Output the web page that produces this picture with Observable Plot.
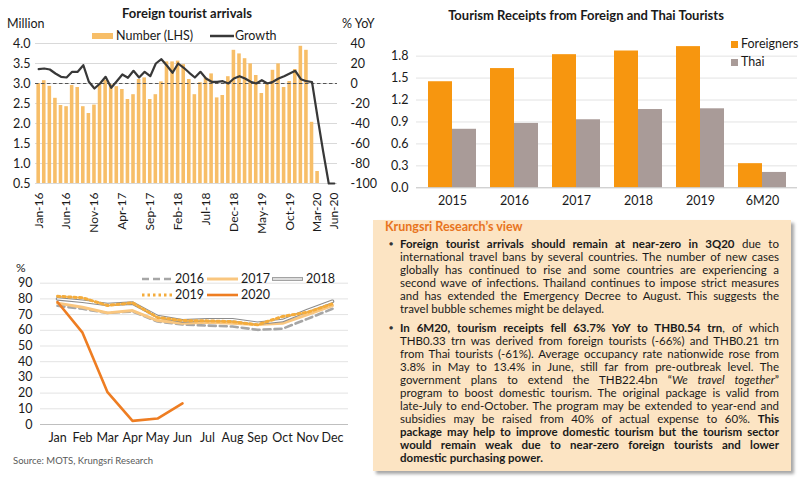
<!DOCTYPE html>
<html><head><meta charset="utf-8">
<script src="https://cdn.jsdelivr.net/npm/d3@7"></script>
<script src="https://cdn.jsdelivr.net/npm/@observablehq/plot@0.6"></script>
<style>
body{margin:0;background:#fff;font-family:Lato,"Open Sans",sans-serif;}
#root{position:relative;width:800px;height:478px;overflow:hidden;background:#fff;}
.lbl{position:absolute;white-space:nowrap;line-height:1;color:#1a1a1a;}
.sw{position:absolute;line-height:0;}
.sw svg{display:block;}
#box{position:absolute;left:373px;top:220px;width:418px;height:251px;background:#FCE4C3;box-shadow:3px 3px 3px rgba(0,0,0,0.35);}
#box .ln{position:absolute;left:27px;width:379px;height:13px;line-height:13px;font-size:11.5px;color:#1a1a1a;text-align:justify;text-align-last:justify;}
#box .last{text-align-last:left;}
#box .bul{position:absolute;left:16px;font-size:7px;line-height:13px;color:#333;}
</style></head><body><div id="root"></div>
<script>
const FONT = "Lato, 'Open Sans', sans-serif";
const root = document.getElementById("root");

// ---------- Chart 1 data: Foreign tourist arrivals ----------
const monthNames = ["Jan","Feb","Mar","Apr","May","Jun","Jul","Aug","Sep","Oct","Nov","Dec"];
const arrivalYears = ["16","17","18","19","20"];
const arrivals2016 = [3.00, 3.07, 2.93, 2.63, 2.45, 2.42, 2.95, 2.90, 2.42, 2.25, 2.46, 2.97];
const arrivals2017 = [3.08, 2.97, 2.92, 2.85, 2.60, 2.72, 3.10, 3.14, 2.60, 2.72, 3.04, 3.54];
const arrivals2018 = [3.54, 3.56, 3.47, 3.10, 2.72, 3.02, 3.14, 3.24, 2.64, 2.70, 3.17, 3.83];
const arrivals2019 = [3.74, 3.62, 3.49, 3.20, 2.75, 2.97, 3.33, 3.49, 2.90, 3.05, 3.35, 3.93];
const arrivals2020 = [3.83, 2.03, 0.80, 0.01, 0.01, 0.01];
const growth2016 = [14.3, 15.0, 14.0, 10.0, 6.7, 6.0, 11.7, 11.7, 18.3, 1.7, -5.0, 0.0];
const growth2017 = [6.7, -4.3, 2.3, 9.0, 5.7, 12.7, 6.0, 11.7, 7.3, 20.0, 24.3, 17.7];
const growth2018 = [10.7, 20.0, 15.7, 10.7, 6.0, 11.7, 5.0, 1.7, 1.7, 2.3, 0.0, 5.0];
const growth2019 = [7.3, 5.0, 1.7, 0.0, 3.3, 0.0, 1.7, 5.0, 7.3, 10.0, 12.7, 4.3];
const growth2020 = [2.3, 1.5, -34, -68, -100, -100];
const leftTicks = [0.5, 1.0, 1.5, 2.0, 2.5, 3.0, 3.5, 4.0];
const rightTicks = [40, 20, 0, -20, -40, -60, -80, -100];
const xTickLabels = ["Jan-16","Jun-16","Nov-16","Apr-17","Sep-17","Feb-18","Jul-18","Dec-18","May-19","Oct-19","Mar-20","Jun-20"];

// ---------- Chart 2 data: Tourism receipts ----------
const receiptYears = ["2015","2016","2017","2018","2019","6M20"];
const receiptsForeign = [1.45, 1.63, 1.82, 1.87, 1.93, 0.33];
const receiptsThai = [0.80, 0.88, 0.93, 1.07, 1.08, 0.21];
const receiptTicks = [0, 0.3, 0.6, 0.9, 1.2, 1.5, 1.8];

// ---------- Chart 3 data: Occupancy rate ----------
const occMonths = ["Jan","Feb","Mar","Apr","May","Jun","Jul","Aug","Sep","Oct","Nov","Dec"];
const occ2016 = [75.6, 73.7, 71.0, 72.0, 65.6, 63.7, 63.0, 62.4, 60.3, 61.0, 67.3, 73.7];
const occ2017 = [77.3, 74.7, 71.1, 72.6, 66.2, 64.5, 65.2, 64.5, 63.7, 64.5, 70.0, 75.8];
const occ2018 = [80.0, 78.5, 76.4, 77.3, 68.8, 66.0, 66.7, 66.7, 64.5, 66.2, 72.6, 78.5];
const occ2019 = [81.7, 80.7, 75.8, 77.5, 68.2, 66.2, 66.0, 65.5, 63.5, 68.8, 71.5, 76.9];
const occ2020 = [78.0, 58.5, 20.6, 2.3, 3.8, 13.4];
const occTicks = [0, 10, 20, 30, 40, 50, 60, 70, 80, 90];

// ---------- helpers ----------
function label(text, x, y, o = {}) {
  const d = document.createElement("div");
  d.className = "lbl";
  d.innerHTML = text;
  d.style.left = x + "px"; d.style.top = y + "px";
  d.style.fontSize = (o.size || 12) + "px";
  if (o.bold) d.style.fontWeight = "700";
  if (o.color) d.style.color = o.color;
  const tx = o.anchor === "middle" ? "-50%" : o.anchor === "end" ? "-100%" : "0";
  d.style.transform = `translate(${tx},-50%)`;
  root.appendChild(d);
  if (o.fit) {
    const w = d.getBoundingClientRect().width;
    if (w > o.fit) d.style.transform = `translate(${tx},-50%) scaleX(${o.fit / w})`;
    d.style.transformOrigin = o.anchor === "middle" ? "50% 50%" : "0 50%";
  }
  return d;
}
function swatch(svgInner, x, y, w, h) {
  const d = document.createElement("div");
  d.className = "sw";
  d.style.left = x + "px"; d.style.top = y + "px";
  d.innerHTML = `<svg width="${w}" height="${h}">${svgInner}</svg>`;
  root.appendChild(d);
}
function put(node, x, y) {
  node.style.position = "absolute"; node.style.left = x + "px"; node.style.top = y + "px";
  root.appendChild(node);
}
const baseStyle = {fontFamily: FONT, fontSize: "12.5px", color: "#1a1a1a", background: "transparent", overflow: "visible"};

// ---------- Chart 1 ----------
const arrivals = [...arrivals2016, ...arrivals2017, ...arrivals2018, ...arrivals2019, ...arrivals2020];
const growth = [...growth2016, ...growth2017, ...growth2018, ...growth2019, ...growth2020];
const months = [];
arrivalYears.forEach(y => monthNames.forEach(m => months.push(`${m}-${y}`)));
const arrRows = arrivals.map((v, i) => ({m: months[i], v, g: growth[i]}));
const toLeft = g => 3 + g / 40;

const c1 = Plot.plot({
  width: 400, height: 228,
  marginLeft: 35, marginRight: 63, marginTop: 43, marginBottom: 45,
  style: baseStyle,
  x: {type: "band", domain: arrRows.map(d => d.m), paddingInner: 0.36, paddingOuter: 0.25},
  y: {domain: [0.5, 4.0]},
  marks: [
    Plot.ruleY(leftTicks, {stroke: "#d9d9d9", strokeWidth: 1}),
    Plot.barY(arrRows, {x: "m", y1: 0.5, y2: "v", fill: "#F7BE68", clip: true}),
    Plot.ruleY([3], {stroke: "#555", strokeWidth: 1, strokeDasharray: "3.5,2.5"}),
    Plot.line(arrRows, {x: "m", y: d => toLeft(d.g), stroke: "#383838", strokeWidth: 2.2, strokeLinejoin: "round"}),
    Plot.axisY({ticks: leftTicks, tickFormat: d3.format(".1f"), tickSize: 0, tickPadding: 5, label: null}),
    Plot.axisY({anchor: "right", ticks: rightTicks.map(toLeft), tickFormat: d => String(Math.round((d - 3) * 40)), tickSize: 0, tickPadding: 13, textAnchor: "start", label: null}),
    Plot.axisX({ticks: xTickLabels, tickRotate: -90, tickSize: 0, tickPadding: 9, label: null, fontSize: 12})
  ]
});
put(c1, 0, 0);
label("Foreign tourist arrivals", 187, 13, {bold: true, size: 13, anchor: "middle", fit: 132});
label("Million", 7, 24, {size: 12.5});
label("% YoY", 342, 24, {size: 12.5});
swatch(`<rect x="0" y="0" width="21" height="6" fill="#F7BE68"/>`, 92, 33, 21, 6);
label("Number (LHS)", 116, 36, {size: 12.5});
swatch(`<line x1="0" y1="3" x2="24" y2="3" stroke="#383838" stroke-width="2.5"/>`, 210, 33, 24, 6);
label("Growth", 235, 36, {size: 12.5});

// ---------- Chart 2 ----------
const recRows = receiptYears.map((y, i) => ({year: y, foreign: receiptsForeign[i], thai: receiptsThai[i]}));
const c2 = Plot.plot({
  width: 420, height: 210,
  marginLeft: 36, marginRight: 3, marginTop: 41, marginBottom: 22.7,
  style: baseStyle,
  x: {domain: receiptYears, paddingInner: 0.233, paddingOuter: 0.16},
  y: {domain: [0, 2.0]},
  marks: [
    Plot.ruleY(receiptTicks.slice(1), {stroke: "#e3e3e3"}),
    Plot.barY(recRows, {x: "year", y: "foreign", fill: "#F7960F", insetRight: 24}),
    Plot.barY(recRows, {x: "year", y: "thai", fill: "#A99B98", insetLeft: 24}),
    Plot.ruleY([0], {stroke: "#bfbfbf"}),
    Plot.axisY({ticks: receiptTicks, tickFormat: d3.format(".1f"), tickSize: 0, tickPadding: 8, label: null}),
    Plot.axisX({tickSize: 0, tickPadding: 8, label: null})
  ]
});
put(c2, 380, 0);
label("Tourism Receipts from Foreign and Thai Tourists", 586, 15, {bold: true, size: 13, anchor: "middle", fit: 276});
swatch(`<rect x="0" y="0" width="7" height="7" fill="#F7960F"/>`, 731, 41, 7, 7);
label("Foreigners", 741, 44, {size: 12.5});
swatch(`<rect x="0" y="0" width="7" height="7" fill="#A99B98"/>`, 731, 59, 7, 7);
label("Thai", 741, 62, {size: 12.5});

// ---------- Chart 3 ----------
const occSeries = [["2016", occ2016], ["2017", occ2017], ["2018", occ2018], ["2019", occ2019], ["2020", occ2020]];
const occRows = occSeries.flatMap(([yr, arr]) => arr.map((v, i) => ({yr, m: occMonths[i], v})));
const ofYear = yr => occRows.filter(d => d.yr === yr);
const c3 = Plot.plot({
  width: 370, height: 188,
  marginLeft: 40, marginRight: 22, marginTop: 20.7, marginBottom: 26,
  style: baseStyle,
  x: {type: "point", domain: occMonths, padding: 0.5},
  y: {domain: [0, 90]},
  marks: [
    Plot.ruleY(occTicks.slice(1), {stroke: "#e3e3e3"}),
    Plot.ruleY([0], {stroke: "#bfbfbf"}),
    Plot.line(ofYear("2016"), {x: "m", y: "v", stroke: "#A6A6A6", strokeWidth: 2.6, strokeDasharray: "7,4"}),
    Plot.line(ofYear("2017"), {x: "m", y: "v", stroke: "#F9C67F", strokeWidth: 3}),
    Plot.line(ofYear("2018"), {x: "m", y: "v", stroke: "#8C8C8C", strokeWidth: 3.6}),
    Plot.line(ofYear("2018"), {x: "m", y: "v", stroke: "#ffffff", strokeWidth: 1.4}),
    Plot.line(ofYear("2019"), {x: "m", y: "v", stroke: "#F4AC3C", strokeWidth: 3, strokeDasharray: "2.5,3"}),
    Plot.line(ofYear("2020"), {x: "m", y: "v", stroke: "#EE7D22", strokeWidth: 2.6}),
    Plot.axisY({ticks: occTicks, tickSize: 0, tickPadding: 8, label: null}),
    Plot.axisX({tickSize: 0, tickPadding: 9, label: null})
  ]
});
put(c3, 0, 262);
label("%", 16, 268, {size: 12});
swatch(`<line x1="0" y1="3" x2="30" y2="3" stroke="#A6A6A6" stroke-width="2.6" stroke-dasharray="7,4"/>`, 142, 276, 30, 6);
label("2016", 175, 279, {size: 12.5});
swatch(`<line x1="0" y1="3" x2="31" y2="3" stroke="#F9C67F" stroke-width="3"/>`, 207, 276, 31, 6);
label("2017", 241, 279, {size: 12.5});
swatch(`<line x1="0" y1="3" x2="31" y2="3" stroke="#8C8C8C" stroke-width="3.6"/><line x1="0.8" y1="3" x2="30.2" y2="3" stroke="#fff" stroke-width="1.4"/>`, 272, 276, 31, 6);
label("2018", 306, 279, {size: 12.5});
swatch(`<line x1="0" y1="3" x2="30" y2="3" stroke="#F4AC3C" stroke-width="3" stroke-dasharray="2.5,3"/>`, 142, 292, 30, 6);
label("2019", 175, 295, {size: 12.5});
swatch(`<line x1="0" y1="3" x2="31" y2="3" stroke="#EE7D22" stroke-width="2.6"/>`, 207, 292, 31, 6);
label("2020", 241, 295, {size: 12.5});
label("Source: MOTS, Krungsri Research", 13, 461, {size: 9.5, color: "#595959"});

// ---------- Text box ----------
const box = document.createElement("div");
box.id = "box";
const lines1 = [
  "<b>Foreign tourist arrivals should remain at near-zero in 3Q20</b> due to",
  "international travel bans by several countries. The number of new cases",
  "globally has continued to rise and some countries are experiencing a",
  "second wave of infections. Thailand continues to impose strict measures",
  "and has extended the Emergency Decree to August. This suggests the",
  "travel bubble schemes might be delayed."
];
const lines2 = [
  "<b>In 6M20, tourism receipts fell 63.7% YoY to THB0.54 trn</b>, of which",
  "THB0.33 trn was derived from foreign tourists (-66%) and THB0.21 trn",
  "from Thai tourists (-61%). Average occupancy rate nationwide rose from",
  "3.8% in May to 13.4% in June, still far from pre-outbreak level. The",
  "government plans to extend the THB22.4bn “<i>We travel together</i>”",
  "program to boost domestic tourism. The original package is valid from",
  "late-July to end-October. The program may be extended to year-end and",
  "subsidies may be raised from 40% of actual expense to 60%. <b>This</b>",
  "<b>package may help to improve domestic tourism but the tourism sector</b>",
  "<b>would remain weak due to near-zero foreign tourists and lower</b>",
  "<b>domestic purchasing power.</b>"
];
let html = `<div style="position:absolute;left:12px;top:0px;font-size:12.5px;line-height:14px;font-weight:700;color:#E8741E;white-space:nowrap" id="boxttl">Krungsri Research’s view</div>`;
function addLines(arr, startY) {
  html += `<div class="bul" style="top:${startY - 6.5 - 220}px">●</div>`;
  arr.forEach((t, i) => {
    const cls = i === arr.length - 1 ? "ln last" : "ln";
    html += `<div class="${cls}" style="top:${startY + i * 13 - 6.5 - 220}px">${t}</div>`;
  });
}
addLines(lines1, 243);
addLines(lines2, 327);
box.innerHTML = html;
root.appendChild(box);
box.querySelectorAll(".ln").forEach(el => {
  el.style.whiteSpace = "nowrap"; el.style.width = "max-content";
  const w = el.getBoundingClientRect().width;
  el.style.whiteSpace = ""; el.style.width = "379px";
  if (w > 377) el.style.fontSize = (11.5 * 376 / w) + "px";
});
const ttl = document.getElementById("boxttl");
const tw = ttl.getBoundingClientRect().width;
if (tw > 142) { ttl.style.transform = `scaleX(${142 / tw})`; ttl.style.transformOrigin = "0 0"; }
</script>
</body></html>
